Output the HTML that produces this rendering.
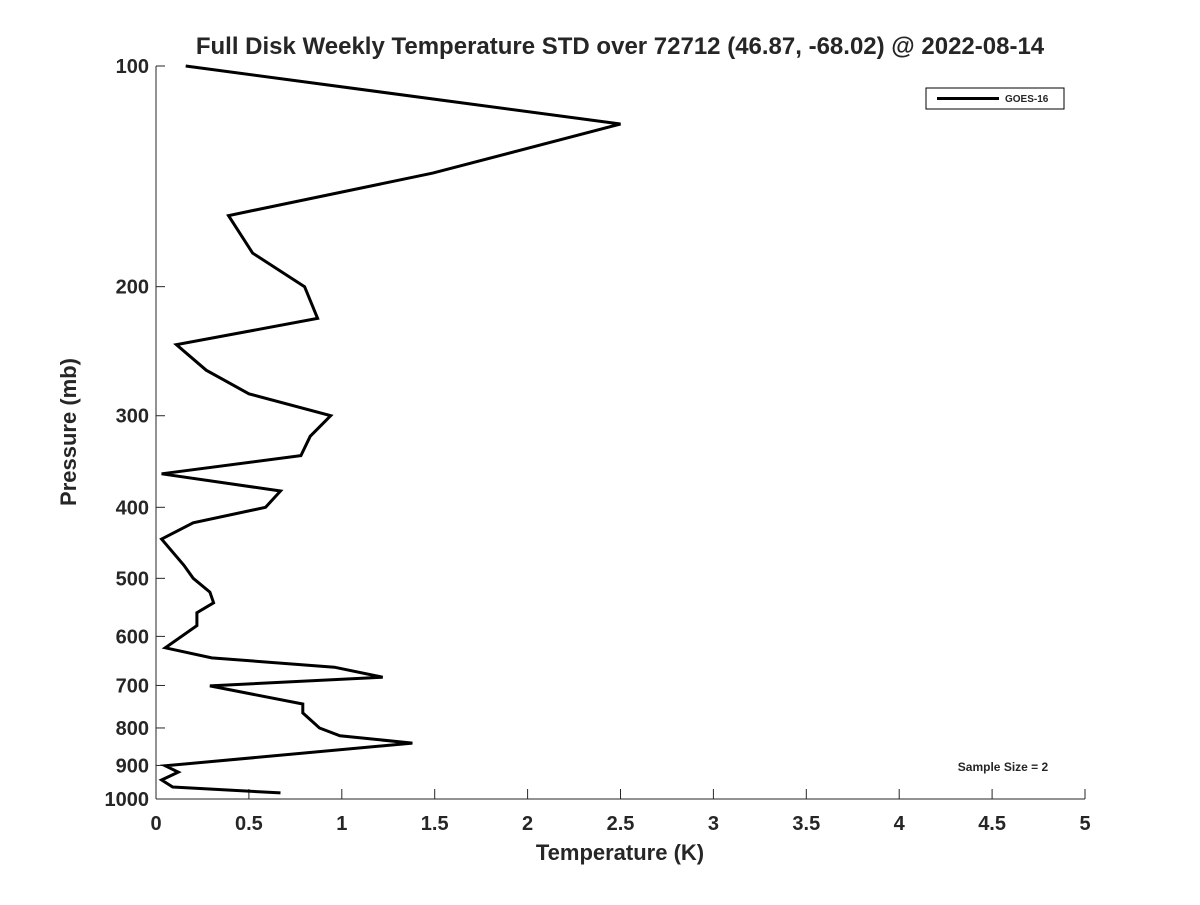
<!DOCTYPE html>
<html><head><meta charset="utf-8"><style>
body{margin:0;background:#fff;}
svg text{font-family:"Liberation Sans","DejaVu Sans",sans-serif;font-weight:bold;fill:#262626;}
</style></head><body>
<svg width="1200" height="900">
<rect width="1200" height="900" fill="#fff"/>
<text x="620" y="54" text-anchor="middle" font-size="24" fill="#000">Full Disk Weekly Temperature STD over 72712 (46.87, -68.02) @ 2022-08-14</text>
<g id="axes"></g>
<text x="620" y="860" text-anchor="middle" font-size="22">Temperature (K)</text>
<text transform="translate(76,432) rotate(-90)" text-anchor="middle" font-size="22">Pressure (mb)</text>
<g>
<rect x="926" y="88" width="138" height="21" fill="#fff" stroke="#000" stroke-width="1"/>
<line x1="937" y1="98.5" x2="999" y2="98.5" stroke="#000" stroke-width="3"/>
<text x="1005" y="102" font-size="10" fill="#000">GOES-16</text>
</g>
<text x="1003" y="771" text-anchor="middle" font-size="12" fill="#000">Sample Size = 2</text>
</svg>
<script>
const temps=[0.16,2.50,1.49,0.39,0.52,0.80,0.87,0.11,0.27,0.50,0.94,0.83,0.78,0.03,0.67,0.59,0.20,0.03,0.15,0.20,0.29,0.31,0.22,0.22,0.05,0.30,0.96,1.22,0.29,0.79,0.79,0.88,0.99,1.38,0.05,0.12,0.03,0.09,0.67];
const pressures=[100,120,140,160,180,200,221,240,260,280,300,320,340,360,380,400,420,442,480,500,522,540,557,580,622,642,661,682,701,742,763,800,820,839,901,919,942,963,981];
const xTicks=[0,0.5,1,1.5,2,2.5,3,3.5,4,4.5,5];
const yTicks=[100,200,300,400,500,600,700,800,900,1000];
const X0=156,X1=1085,Y0=66,Y1=799;
function xs(v){return X0+(v-0)/(5-0)*(X1-X0);}
function ys(p){return Y0+(Math.log10(p)-2)/(3-2)*(Y1-Y0);}
const NS='http://www.w3.org/2000/svg';
const svg=document.querySelector('svg');
const g=document.getElementById('axes');
function mk(t,a,parent){const e=document.createElementNS(NS,t);for(const k in a)e.setAttribute(k,a[k]);(parent||g).appendChild(e);return e;}
const ax=mk('line',{x1:X0,y1:Y0,x2:X0,y2:Y1,stroke:'#262626','stroke-width':1});


const bx=mk('line',{x1:X0,y1:Y1,x2:X1,y2:Y1,stroke:'#262626','stroke-width':1});


xTicks.forEach(v=>{const x=xs(v);
const tk=mk('line',{x1:x,y1:Y1,x2:x,y2:Y1-10,stroke:'#262626'});


const t=mk('text',{x:x,y:Y1+31,'text-anchor':'middle','font-size':20});t.textContent=String(v);

});
yTicks.forEach(p=>{const y=ys(p);
const tk=mk('line',{x1:X0,y1:y,x2:X0+9,y2:y,stroke:'#262626'});


const t=mk('text',{x:X0-7,y:y+7,'text-anchor':'end','font-size':20});t.textContent=String(p);

});
const pts=temps.map((v,i)=>xs(v).toFixed(1)+','+ys(pressures[i]).toFixed(1)).join(' ');
const line=mk('polyline',{points:pts,fill:'none',stroke:'#000','stroke-width':3,'stroke-linejoin':'miter'},svg);


</script>
</body></html>
